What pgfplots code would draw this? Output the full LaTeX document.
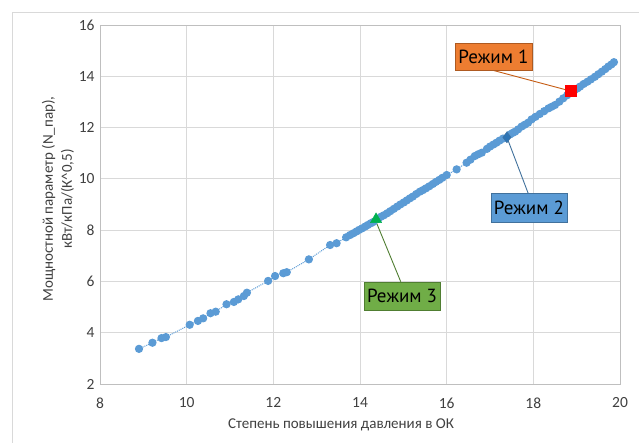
\documentclass[border=0pt]{standalone}
\usepackage{pgfplots}
\pgfplotsset{compat=1.18}
\usepackage{fontspec}
\setmainfont{Carlito}
\newfontfamily\callfont{PT Sans}
\definecolor{ptblue}{HTML}{5B9BD5}
\definecolor{gridc}{HTML}{D9D9D9}
\definecolor{axc}{HTML}{BFBFBF}
\definecolor{txt}{HTML}{404040}
\definecolor{orfill}{HTML}{ED7D31}
\definecolor{ordraw}{HTML}{AE5A21}
\definecolor{orline}{HTML}{C55A11}
\definecolor{bldraw}{HTML}{41719C}
\definecolor{grfill}{HTML}{70AD47}
\definecolor{grdraw}{HTML}{507E32}
\definecolor{diam}{HTML}{2E75B6}
\definecolor{tri}{HTML}{00B050}
\begin{document}
\begin{tikzpicture}[x=1pt,y=1pt]
\useasboundingbox (-100,-58) rectangle (539,384);
\draw[gridc, line width=0.8pt] (-88,-80) -- (-88,372) -- (600,372);
\begin{axis}[
  at={(0,0)}, anchor=south west,
  scale only axis, width=520pt, height=359pt,
  xmin=8, xmax=20, ymin=2, ymax=16,
  xtick distance=2, ytick distance=2,
  major tick length=0pt,
  grid=major,
  grid style={gridc, line width=0.8pt},
  axis line style={axc, line width=0.8pt},
  axis lines=box,
  tick label style={font=\fontsize{15.5}{17}\selectfont, text=txt},
  /pgf/number format/assume math mode=true,
  xticklabel style={yshift=-10pt},
  yticklabel style={xshift=-2pt},
  xlabel={Степень повышения давления в ОК},
  ylabel={Мощностной параметр (N\_пар),\\ кВт/кПа/(К\textasciicircum 0,5)},
  label style={font=\fontsize{15}{19}\selectfont, text=txt},
  xlabel style={at={(axis description cs:0.4635,-0.114)}, anchor=center},
  ylabel style={at={(axis description cs:-0.081,0.515)}, anchor=center, align=center},
  clip=false,
]
\addplot[ptblue, densely dotted, line width=1pt, mark=*, mark size=3.6pt,
  mark options={solid, fill=ptblue, draw=ptblue}] coordinates {
(8.90,3.37) (9.21,3.61) (9.42,3.79) (9.52,3.83) (10.07,4.31) (10.26,4.46)
(10.38,4.56) (10.55,4.76) (10.67,4.82) (10.92,5.11) (11.09,5.20) (11.19,5.30)
(11.32,5.43) (11.39,5.56) (11.88,6.02) (12.04,6.21) (12.23,6.32) (12.31,6.36)
(12.82,6.86) (13.31,7.42) (13.46,7.49) (13.68,7.72) (13.77,7.81)
(13.85,7.88) (13.92,7.95) (13.98,8.01) (14.05,8.07) (14.12,8.14) (14.18,8.20)
(14.25,8.27) (14.31,8.32) (14.42,8.44) (14.48,8.52) (14.55,8.58) (14.63,8.66)
(14.70,8.74) (14.78,8.83) (14.86,8.92) (14.93,9.00) (15.01,9.08) (15.08,9.16)
(15.15,9.24) (15.22,9.31) (15.30,9.41) (15.38,9.50) (15.45,9.56) (15.52,9.63)
(15.60,9.71) (15.68,9.80) (15.75,9.88) (15.83,9.96) (15.90,10.04) (16.00,10.15)
(16.23,10.37) (16.46,10.63) (16.55,10.75) (16.65,10.89) (16.73,10.96) (16.81,11.02)
(16.93,11.17) (17.00,11.26) (17.08,11.34) (17.15,11.41) (17.22,11.49) (17.30,11.57)
(17.46,11.73) (17.52,11.79) (17.58,11.84) (17.65,11.93) (17.73,12.04) (17.80,12.11)
(17.88,12.19) (17.96,12.32) (18.05,12.42) (18.15,12.53) (18.25,12.64) (18.35,12.75)
(18.42,12.81) (18.50,12.88) (18.60,13.01) (18.69,13.14) (18.78,13.26) (18.95,13.46)
(19.02,13.53) (19.08,13.60) (19.16,13.70) (19.25,13.79) (19.33,13.88) (19.42,13.98)
(19.50,14.08) (19.58,14.18) (19.66,14.28) (19.73,14.38) (19.80,14.46) (19.86,14.55)
};
% leader lines
\draw[orline, line width=0.9pt] (axis cs:17.03,14.25) -- (axis cs:18.87,13.42);
\draw[bldraw, line width=0.9pt] (axis cs:17.39,11.62) -- (axis cs:17.88,9.44);
\draw[grdraw, line width=0.9pt] (axis cs:14.37,8.33) -- (axis cs:14.94,5.99);
% special points
\addplot[only marks, mark=square*, mark size=5.5pt, mark options={fill=red, draw=red}] coordinates {(18.87,13.42)};
\addplot[only marks, mark=diamond*, mark size=5.5pt, mark options={fill=diam, draw=bldraw}] coordinates {(17.39,11.62)};
\addplot[only marks, mark=triangle*, mark size=6.5pt, mark options={fill=tri, draw=tri}] coordinates {(14.37,8.42)};
% callouts
\node[fill=orfill, draw=ordraw, line width=0.8pt, minimum width=77pt, minimum height=27pt, inner sep=0pt, font=\callfont\fontsize{19}{21}\selectfont] at (axis cs:17.08,14.77) {Режим 1};
\node[fill=ptblue, draw=bldraw, line width=0.8pt, minimum width=76pt, minimum height=29pt, inner sep=0pt, font=\callfont\fontsize{19}{21}\selectfont] at (axis cs:17.90,8.88) {Режим 2};
\node[fill=grfill, draw=grdraw, line width=0.8pt, minimum width=76pt, minimum height=28pt, inner sep=0pt, font=\callfont\fontsize{19}{21}\selectfont] at (axis cs:14.97,5.43) {Режим 3};
\end{axis}
\end{tikzpicture}
\end{document}
